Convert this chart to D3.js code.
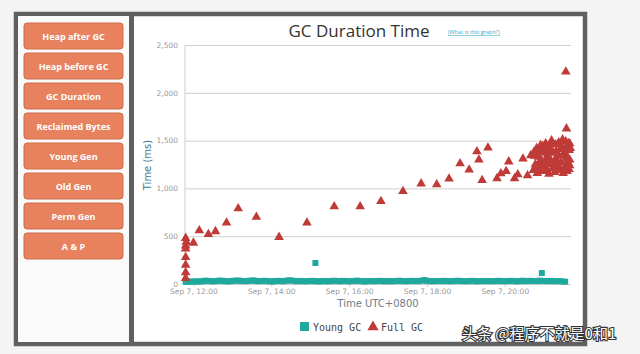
<!DOCTYPE html>
<html>
<head>
<meta charset="utf-8">
<title>GC Duration Time</title>
<style>
  body { margin: 0; background: #f4f4f4; }
  svg { display: block; }
  .axis path { display: none; }
  .axis line { stroke: #cfcfcf; }
  .axis text { fill: #999; font-family: "DejaVu Sans", sans-serif; font-size: 7.5px; }
  .btn text { fill: #fff; font-family: "Open Sans", sans-serif; font-weight: bold; font-size: 9px; }
</style>
</head>
<body>
<svg width="640" height="354"></svg>
<script src="https://d3js.org/d3.v7.min.js"></script>
<script>
// side menu
var menuItems = ["Heap after GC", "Heap before GC", "GC Duration", "Reclaimed Bytes",
                 "Young Gen", "Old Gen", "Perm Gen", "A & P"];

// y axis ticks (ms)
var yTicks = [0, 500, 1000, 1500, 2000, 2500];
// x axis ticks
var xTicks = ["12:00", "14:00", "16:00", "18:00", "20:00"];

// Young GC pauses
var youngTimes = ["11:48","11:52","11:56","12:01","12:05","12:09","12:14","12:18","12:22","12:27",
  "12:31","12:35","12:40","12:44","12:48","12:53","12:57","13:01","13:06","13:10",
  "13:14","13:19","13:23","13:27","13:32","13:36","13:40","13:45","13:49","13:53",
  "13:58","14:02","14:06","14:11","14:15","14:19","14:24","14:28","14:32","14:37",
  "14:41","14:45","14:50","14:54","14:58","15:03","15:07","15:08","15:11","15:16",
  "15:20","15:24","15:29","15:33","15:37","15:42","15:46","15:50","15:55","15:59",
  "16:03","16:08","16:12","16:16","16:21","16:25","16:29","16:34","16:38","16:42",
  "16:47","16:51","16:55","17:00","17:04","17:08","17:13","17:17","17:21","17:26",
  "17:30","17:34","17:39","17:43","17:47","17:52","17:56","18:00","18:05","18:09",
  "18:13","18:18","18:22","18:26","18:31","18:35","18:39","18:44","18:48","18:52",
  "18:57","19:01","19:05","19:10","19:14","19:18","19:23","19:27","19:31","19:36",
  "19:40","19:44","19:49","19:53","19:57","20:02","20:06","20:10","20:15","20:19",
  "20:23","20:28","20:32","20:36","20:41","20:45","20:49","20:54","20:57","20:58",
  "21:02","21:07","21:11","21:15","21:20","21:24","21:28","21:33"];
var youngValues = [22,24,26,25,27,26,28,34,33,30,
  28,31,35,34,29,27,30,33,36,35,
  32,30,31,35,37,33,29,31,34,30,
  28,27,30,33,31,29,35,38,36,31,
  29,32,30,28,31,33,30,220,29,27,
  31,30,28,32,34,30,29,33,31,28,
  30,32,35,31,29,27,30,32,28,31,
  33,30,29,31,28,30,32,34,31,29,
  30,32,33,30,31,35,41,33,30,29,
  31,32,30,33,31,29,30,32,34,31,
  30,29,31,33,30,28,31,30,32,29,
  31,30,33,32,30,29,31,33,30,28,
  31,34,30,32,33,31,30,35,115,32,
  31,30,33,29,31,30,27,24];

// Full GC pauses
var fullTimes = ["11:48","11:48","11:48","11:48","11:48","11:48","11:48","11:49","12:00","12:09",
  "12:23","12:34","12:51","13:09","13:37","14:12","14:55","15:37","16:17","16:49",
  "17:23","17:51","18:15","18:34","18:51","19:05","19:17","19:20","19:25","19:34",
  "19:48","19:54","20:02","20:06","20:15","20:20","20:28","20:35","20:40",
  "20:44","20:45","20:47","20:49","20:50","20:52","20:54","20:55","20:57","20:59",
  "21:00","21:02","21:03","21:05","21:06","21:08","21:09","21:11","21:12","21:14",
  "21:15","21:17","21:18","21:20","21:21","21:23","21:24","21:26","21:27","21:29",
  "21:30","21:31","21:33","21:34","21:35","21:36","21:37","21:38","21:39","21:39",
  "21:40","21:40","21:35","21:34",
  "20:46","20:48","20:51","20:53","20:56","20:58","21:01","21:04","21:07","21:10",
  "21:13","21:16","21:19","21:22","21:25","21:28","21:32","21:36","21:38","21:40",
  "20:52","20:58","21:04","21:10","21:16","21:22","21:28","21:33","21:37","21:41"];
var fullValues = [480,400,370,280,200,120,60,440,430,560,
  520,550,640,790,700,490,640,810,810,865,
  970,1050,1040,1100,1260,1195,1385,1300,1085,1425,
  1105,1155,1180,1280,1105,1145,1310,1135,1345,
  1190,1380,1250,1420,1160,1330,1220,1450,1290,1180,
  1400,1260,1470,1200,1350,1150,1430,1280,1500,1210,
  1370,1170,1460,1300,1240,1480,1190,1410,1270,1510,
  1160,1360,1230,1490,1310,1180,1440,1250,1400,1200,
  1470,1300,1625,2220,
  1340,1230,1400,1270,1370,1440,1220,1390,1330,1250,
  1460,1230,1390,1350,1210,1440,1380,1330,1470,1240,
  1190,1210,1300,1380,1290,1200,1340,1200,1280,1420];

function at(hm) {
  var p = hm.split(":");
  return new Date(2014, 8, 7, +p[0], +p[1]);
}

var svg = d3.select("svg");

// frame
svg.append("rect").attr("x", 16).attr("y", 14).attr("width", 569).attr("height", 330)
   .attr("fill", "#fff").attr("stroke", "#606060").attr("stroke-width", 4.5);
svg.append("rect").attr("x", 18).attr("y", 16).attr("width", 111).attr("height", 326).attr("fill", "#fafafa");
svg.append("rect").attr("x", 129).attr("y", 14).attr("width", 5).attr("height", 330).attr("fill", "#606060");

// menu buttons
var btn = svg.append("g").attr("class", "btn").selectAll("g")
    .data(menuItems).enter().append("g")
    .attr("transform", function(d, i) { return "translate(24," + (23 + i * 30) + ")"; });
btn.append("rect").attr("width", 99).attr("height", 26).attr("rx", 3)
   .attr("fill", "#e8825e").attr("stroke", "#cf6c4a").attr("stroke-width", 1);
btn.append("text").attr("x", 49.5).attr("y", 16.5).attr("text-anchor", "middle").text(function(d) { return d; });

// plot
var x = d3.scaleTime().domain([at("11:47"), at("21:42")]).range([185, 571]);
var y = d3.scaleLinear().domain([0, 2500]).range([284, 45]);

svg.append("g").attr("class", "axis").attr("transform", "translate(185,0)")
   .call(d3.axisLeft(y).tickValues(yTicks).tickSize(-386).tickPadding(7).tickFormat(d3.format(",")))
   .selectAll("text").attr("dy", "0.3em");

svg.append("line").attr("x1", 185).attr("x2", 185).attr("y1", 45).attr("y2", 284).attr("stroke", "#cfcfcf");

svg.append("g").attr("class", "axis").attr("transform", "translate(0,284)")
   .call(d3.axisBottom(x).tickValues(xTicks.map(at)).tickSize(3).tickPadding(2)
     .tickFormat(d3.timeFormat("%b %-d, %H:%M")));

// young GC squares
svg.append("g").selectAll("rect")
   .data(youngValues).enter().append("rect")
   .attr("x", function(d, i) { return x(at(youngTimes[i])) - 3; })
   .attr("y", function(d) { return y(d) - 3; })
   .attr("width", 6).attr("height", 6)
   .attr("fill", "#1fa99e");

// full GC triangles
var tri = d3.symbol().type(d3.symbolTriangle).size(40);
svg.append("g").selectAll("path")
   .data(fullValues).enter().append("path")
   .attr("d", tri)
   .attr("transform", function(d, i) { return "translate(" + x(at(fullTimes[i])) + "," + y(d) + ")"; })
   .attr("fill", "#bf3b38");

// titles
svg.append("text").attr("x", 359).attr("y", 37).attr("text-anchor", "middle")
   .style("font-family", "'Open Sans', sans-serif").style("font-size", "17px").attr("fill", "#333")
   .text("GC Duration Time");
svg.append("text").attr("x", 448).attr("y", 34)
   .style("font-family", "'Open Sans', sans-serif").style("font-size", "5.5px").attr("fill", "#35a7c8")
   .style("text-decoration", "underline").text("(What is this graph?)");
svg.append("text").attr("x", 378).attr("y", 307).attr("text-anchor", "middle")
   .style("font-family", "'DejaVu Sans', sans-serif").style("font-size", "10px").attr("fill", "#6d7d8a")
   .text("Time UTC+0800");
svg.append("text").attr("transform", "translate(151,165) rotate(-90)").attr("text-anchor", "middle")
   .style("font-family", "'DejaVu Sans', sans-serif").style("font-size", "10px").attr("fill", "#3f7a96")
   .text("Time (ms)");

// legend
var leg = svg.append("g").style("font-family", "'DejaVu Sans Mono', monospace").style("font-size", "10px");
leg.append("rect").attr("x", 300).attr("y", 322).attr("width", 9).attr("height", 9).attr("fill", "#1fa99e");
leg.append("text").attr("x", 313).attr("y", 331).attr("fill", "#444").text("Young GC");
leg.append("path").attr("d", d3.symbol().type(d3.symbolTriangle).size(55))
   .attr("transform", "translate(373,327)").attr("fill", "#bf3b38");
leg.append("text").attr("x", 381).attr("y", 331).attr("fill", "#444").text("Full GC");

// watermark
svg.append("text").attr("x", 462).attr("y", 339)
   .style("font-family", "'Noto Sans CJK SC', sans-serif").style("font-size", "15px")
   .attr("fill", "#fff").attr("stroke", "#333").attr("stroke-width", 2.2).attr("paint-order", "stroke")
   .text("头条 @程序不就是0和1");
</script>
</body>
</html>
